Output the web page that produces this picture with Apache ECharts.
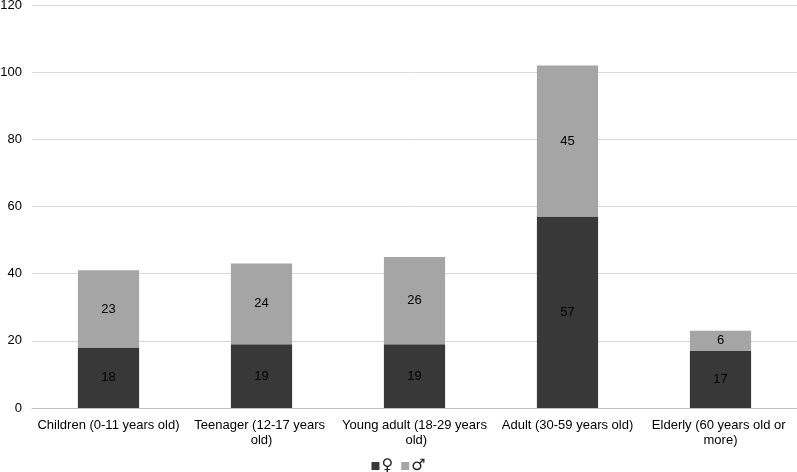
<!DOCTYPE html>
<html>
<head>
<meta charset="utf-8">
<script src="https://cdn.jsdelivr.net/npm/echarts@6/dist/echarts.min.js"></script>
<style>
  html, body { margin: 0; padding: 0; background: #fff; }
  #chart { width: 797px; height: 472px; }
</style>
</head>
<body>
<div id="chart"></div>
<script>
var categories = ["Children (0-11 years old)", "Teenager (12-17 years old)", "Young adult (18-29 years old)", "Adult (30-59 years old)", "Elderly (60 years old or more)"];
var female = [18, 19, 19, 57, 17];
var male = [23, 24, 26, 45, 6];
var seriesNames = ["\u2640", "\u2642"];

(function () {
    var myChart = echarts.init(document.getElementById("chart"));
    var font = "'Liberation Sans', Arial, sans-serif";
    var option = {
        animation: false,
        textStyle: { fontFamily: font },
        grid: { left: 32, right: 0, top: 5, bottom: 64, outerBoundsMode: "none", containLabel: false },
        legend: {
            top: 453,
            left: "center",
            itemWidth: 8,
            itemHeight: 8,
            itemGap: 8,
            icon: "rect",
            textStyle: { color: "#222", fontSize: 16, fontFamily: "'DejaVu Sans', sans-serif", padding: [0, 0, 0, -3] },
            data: seriesNames
        },
        xAxis: {
            type: "category",
            data: categories,
            axisTick: { show: false },
            axisLine: { lineStyle: { color: "#bfbfbf", width: 1 } },
            axisLabel: {
                color: "#000",
                fontSize: 13,
                fontFamily: font,
                interval: 0,
                margin: 10,
                width: 148,
                overflow: "break",
                lineHeight: 15
            }
        },
        yAxis: {
            type: "value",
            min: 0,
            max: 120,
            interval: 20,
            axisLine: { show: false },
            axisTick: { show: false },
            axisLabel: { color: "#000", fontSize: 13, fontFamily: font, margin: 10 },
            splitLine: { lineStyle: { color: "#d9d9d9", width: 1 } }
        },
        series: [
            {
                name: seriesNames[0],
                type: "bar",
                stack: "total",
                barWidth: "40%",
                itemStyle: { color: "#383838" },
                label: { show: true, position: "inside", color: "#000", fontSize: 13, fontFamily: font },
                data: female
            },
            {
                name: seriesNames[1],
                type: "bar",
                stack: "total",
                barWidth: "40%",
                itemStyle: { color: "#a5a5a5" },
                label: { show: true, position: "inside", color: "#000", fontSize: 13, fontFamily: font },
                data: male
            }
        ]
    };
    myChart.setOption(option);
})();
</script>
</body>
</html>
